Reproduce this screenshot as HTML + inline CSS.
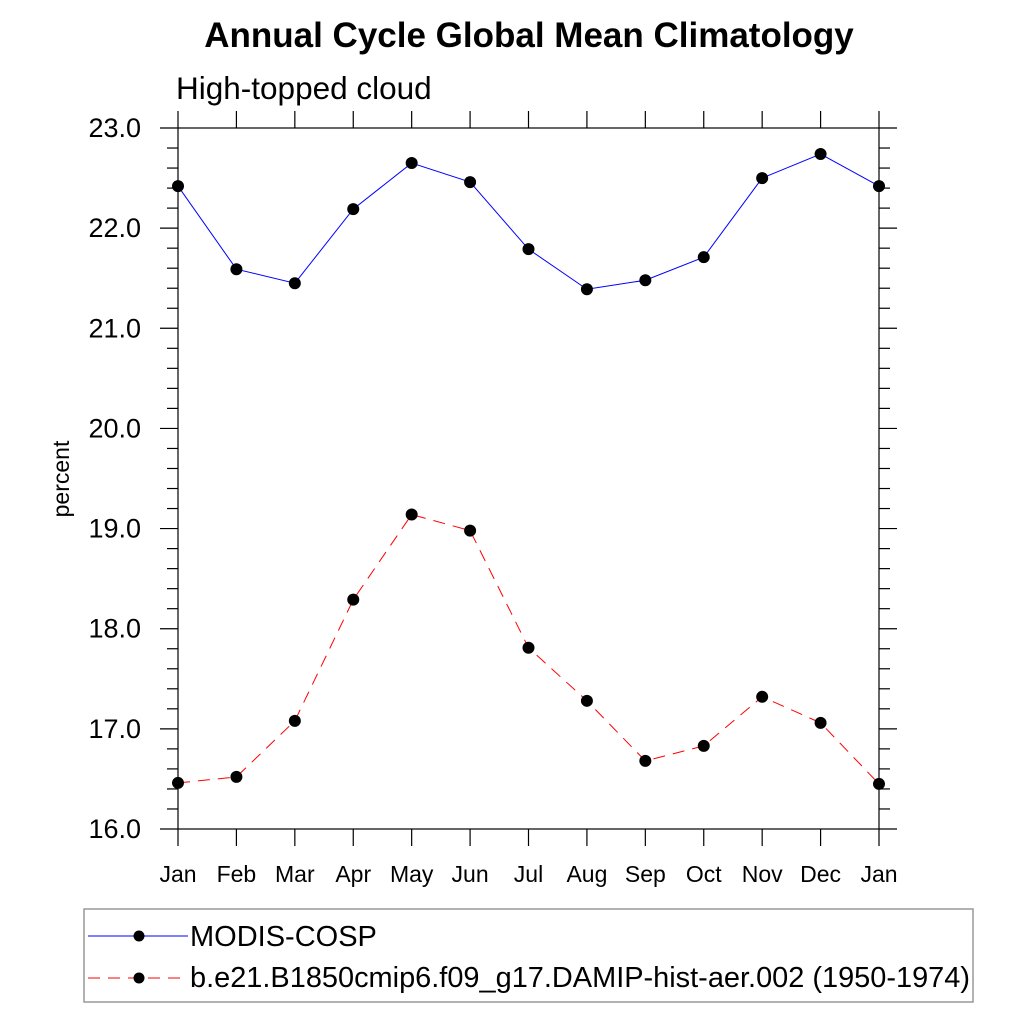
<!DOCTYPE html>
<html><head><meta charset="utf-8"><style>
body{margin:0;background:#fff}
svg text{font-family:"Liberation Sans",sans-serif}
</style></head><body>
<svg id="c" width="1024" height="1024" xmlns="http://www.w3.org/2000/svg">
<text x="529" y="47" text-anchor="middle" font-size="35" font-weight="bold">Annual Cycle Global Mean Climatology</text>
<text x="176" y="99" font-size="31.5">High-topped cloud</text>
<text transform="translate(69,479) rotate(-90)" text-anchor="middle" font-size="23">percent</text>
<g id="axes"></g>
<g id="series"></g>
<g>
<rect x="84" y="909" width="889" height="93" fill="none" stroke="#999" stroke-width="1.5"/>
<g>
<line x1="88" y1="936" x2="188" y2="936" stroke="#00f" stroke-width="1"/>
<circle cx="139" cy="936" r="5.5" fill="#000"/>
<text x="190" y="946" font-size="29">MODIS-COSP</text></g>
<g>
<line x1="88" y1="978" x2="188" y2="978" stroke="#f00" stroke-width="1" stroke-dasharray="12,8"/>
<circle cx="139" cy="978" r="5.5" fill="#000"/>
<text x="190" y="987" font-size="29" textLength="780" lengthAdjust="spacingAndGlyphs">b.e21.B1850cmip6.f09_g17.DAMIP-hist-aer.002 (1950-1974)</text></g>
</g>
</svg>
<script>
const months=["Jan","Feb","Mar","Apr","May","Jun","Jul","Aug","Sep","Oct","Nov","Dec","Jan"];
const modis=[22.42,21.59,21.45,22.19,22.65,22.46,21.79,21.39,21.48,21.71,22.50,22.74,22.42];
const model=[16.46,16.52,17.08,18.29,19.14,18.98,17.81,17.28,16.68,16.83,17.32,17.06,16.45];
const yTicks=[16,17,18,19,20,21,22,23];
const NS="http://www.w3.org/2000/svg";
const L=178,R=879,T=128,B=829,yMin=16,yMax=23;
const xs=i=>L+(R-L)*i/(months.length-1);
const ys=v=>B-(v-yMin)/(yMax-yMin)*(B-T);
function mk(tag,attrs,parent){const e=document.createElementNS(NS,tag);for(const k in attrs)e.setAttribute(k,attrs[k]);parent.appendChild(e);return e;}
const ax=document.getElementById('axes');
const fr=mk('rect',{x:L,y:T,width:R-L,height:B-T,fill:'none',stroke:'#000','stroke-width':1.2},ax);


months.forEach((m,i)=>{const x=xs(i);
mk('line',{x1:x,y1:B,x2:x,y2:B+17,stroke:'#000','stroke-width':1.2},ax);
mk('line',{x1:x,y1:T,x2:x,y2:T-17,stroke:'#000','stroke-width':1.2},ax);
const t=mk('text',{x:x,y:882,'text-anchor':'middle','font-size':23},ax);t.textContent=m;

});
for(let v=yMin;v<=yMax+1e-9;v+=0.2){const y=ys(v);const major=Math.abs(v-Math.round(v))<1e-6;const len=major?18:11;
mk('line',{x1:L-len,y1:y,x2:L,y2:y,stroke:'#000','stroke-width':1.2},ax);
mk('line',{x1:R,y1:y,x2:R+len,y2:y,stroke:'#000','stroke-width':1.2},ax);}
yTicks.forEach(v=>{const t=mk('text',{x:141,y:ys(v)+9,'text-anchor':'end','font-size':27},ax);t.textContent=v.toFixed(1);

});
const sg=document.getElementById('series');
function series(data,color,dash,name){const g=mk('g',{},sg);


mk('polyline',{points:data.map((v,i)=>xs(i)+','+ys(v)).join(' '),fill:'none',stroke:color,'stroke-width':1,'stroke-dasharray':dash},g);
data.forEach((v,i)=>{const c=mk('circle',{cx:xs(i),cy:ys(v),r:6,fill:'#000'},g);

});}
series(modis,'#00f','none','series-modis');
series(model,'#f00','12,8','series-model');
</script>
</body></html>
